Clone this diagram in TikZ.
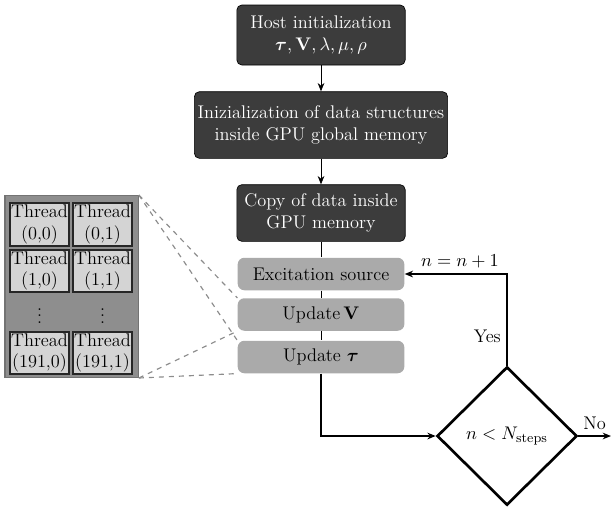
\documentclass[tikz,border=0pt]{standalone}
\usepackage{amsmath,bm}
\usetikzlibrary{shapes.geometric,arrows.meta}
\definecolor{darkbox}{HTML}{3C3C3C}
\definecolor{lightbox}{HTML}{AAAAAA}
\definecolor{gridbg}{HTML}{8E8E8E}
\definecolor{cellbg}{HTML}{D4D4D4}
\tikzset{
  hostbox/.style={draw=black, fill=darkbox, text=white, rounded corners=3pt, align=center, inner sep=2pt},
  stagebox/.style={fill=lightbox, rounded corners=4pt, minimum width=100pt, minimum height=19.5pt, inner sep=1pt},
  cellbox/.style={draw=black!85, line width=1.1pt, fill=cellbg, minimum width=35.5pt, minimum height=25.5pt, inner sep=0pt, align=center},
  flow/.style={-{Stealth[length=5pt,width=4pt]}}
}
\begin{document}
\begin{tikzpicture}[x=0.6pt,y=-0.6pt, font=\fontsize{11}{13}\selectfont]
    \useasboundingbox (0,0) rectangle (611,506);

    % Caselle principali
    \node[hostbox, minimum width=101pt, minimum height=36pt] (host) at (321,35)
        {Host initialization\\ $\bm{\tau}, \mathbf{V}, \lambda, \mu, \rho$};
    \node[hostbox, minimum width=150pt, minimum height=40pt] (init) at (321,125)
        {Inizialization of data structures\\ inside GPU global memory};
    \node[hostbox, minimum width=101pt, minimum height=34pt] (copy) at (321,213)
        {Copy of data inside\\ GPU memory};

    % Passi del ciclo
    \node[stagebox] (excite) at (321,274) {Excitation source};
    \node[stagebox] (updV) at (321,314.5) {Update\,$\mathbf{V}$};
    \node[stagebox] (updT) at (321,357) {Update $\bm{\tau}$};

    % Condizione
    \node[draw, diamond, line width=1.6pt, fill=white, minimum width=84pt, minimum height=83pt, inner sep=0pt] (cond) at (507,436) {$n < N_{\mathrm{steps}}$};
    \coordinate (out) at (611,436);

    % Frecce
    \draw[flow] (host) -- (init);
    \draw[flow] (init) -- (copy);
    \draw (copy) -- (excite);
    \draw (excite) -- (updV);
    \draw (updV) -- (updT);
    \draw[flow, line width=0.8pt] (updT.south) |- (cond.west);
    \draw[flow, line width=0.8pt] (cond.north) |- node[pos=0.16, left] {Yes} node[pos=0.73, above] {$n=n+1$} (excite.east);
    \draw[flow, line width=1.2pt] (cond.east) -- node[above] {No} (out);

    % Griglia dei thread
    \node[draw=black!55, line width=0.8pt, fill=gridbg, minimum width=80pt, minimum height=109pt, inner sep=0pt] (grid) at (71.5,286.5) {};
    \node[cellbox] (t00) at (39.5,224.5) {Thread\\(0,0)};
    \node[cellbox] (t01) at (102.5,224.5) {Thread\\(0,1)};
    \node[cellbox] (t10) at (39.5,271) {Thread\\(1,0)};
    \node[cellbox] (t11) at (102.5,271) {Thread\\(1,1)};
    \node[inner sep=0pt] (d0) at (39.5,311) {$\vdots$};
    \node[inner sep=0pt] (d1) at (102.5,311) {$\vdots$};
    \node[cellbox] (t20) at (39.5,353) {Thread\\(191,0)};
    \node[cellbox] (t21) at (102.5,353) {Thread\\(191,1)};

    % Linee tratteggiate
    \foreach \b in {updV, updT} {
        \draw[dashed, black!45, line width=0.7pt] (grid.north east) -- (\b.north west);
        \draw[dashed, black!45, line width=0.7pt] (grid.south east) -- (\b.south west);
    }
\end{tikzpicture}
\end{document}
